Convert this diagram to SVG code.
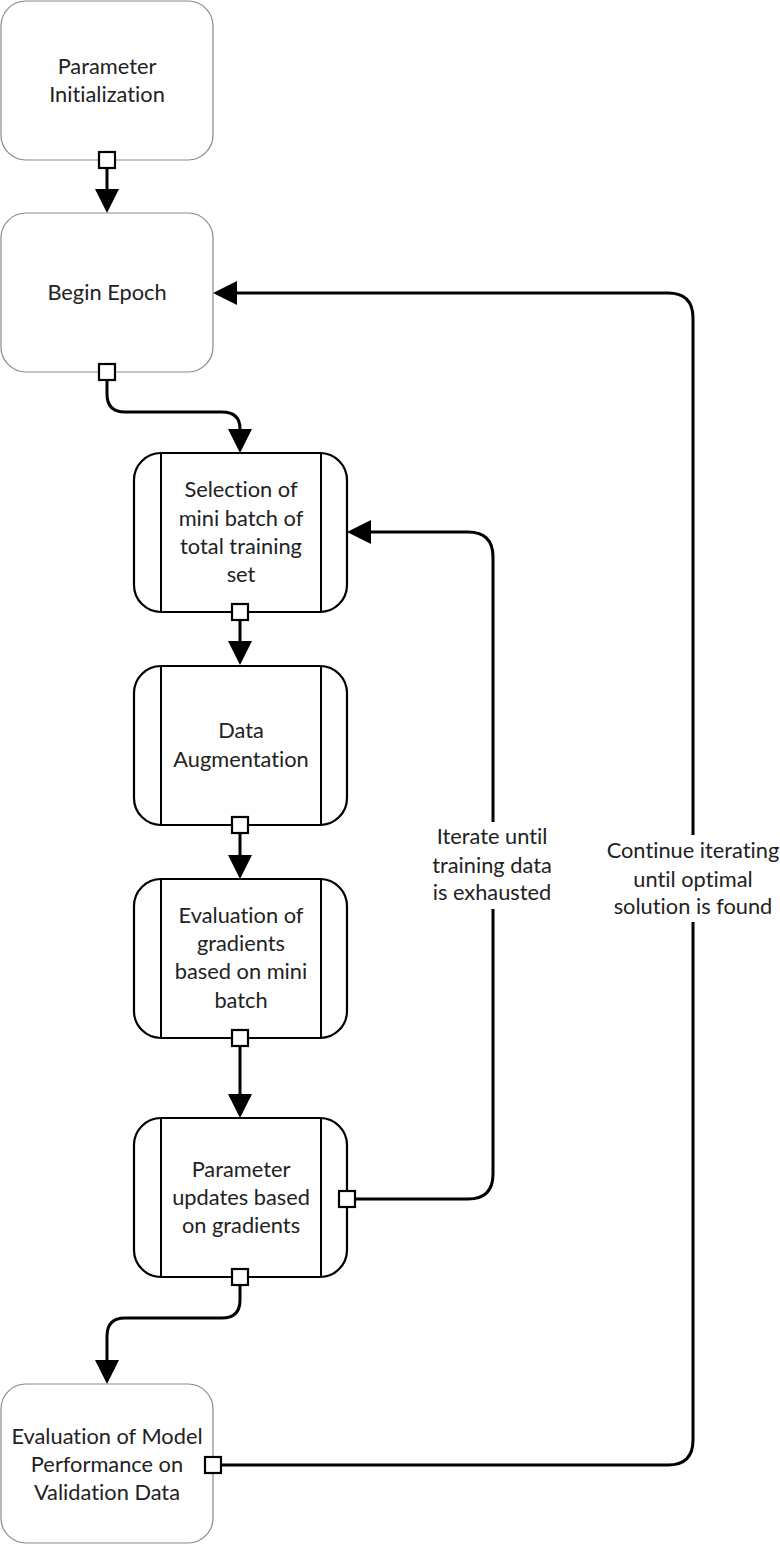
<svg xmlns="http://www.w3.org/2000/svg" width="780" height="1545" viewBox="0 0 780 1545">
<defs>
<style>
.soft{fill:#fff;stroke:#8a8a8a;stroke-width:1.2}
.hard{fill:#fff;stroke:#000;stroke-width:2.2}
.bar{stroke:#000;stroke-width:2}
.t{font-family:Lato,"Open Sans",sans-serif;font-size:21.8px;fill:#222;text-anchor:middle;font-variant-ligatures:none}
.c{fill:none;stroke:#000;stroke-width:3}
.sq{fill:#fff;stroke:#000;stroke-width:2.2}
</style>
<marker id="ah" markerUnits="userSpaceOnUse" markerWidth="24" markerHeight="24" refX="0" refY="12" orient="auto">
<path d="M0,0 L24,12 L0,24 z" fill="#000"/>
</marker>
</defs>
<g id="connectors">
<path class="c" d="M107,160 V189" marker-end="url(#ah)"/>
<path class="c" d="M107,372 V394 Q107,412 125,412 H222 Q240,412 240,429" marker-end="url(#ah)"/>
<path class="c" d="M240,612 V641" marker-end="url(#ah)"/>
<path class="c" d="M240,825 V855" marker-end="url(#ah)"/>
<path class="c" d="M240,1038 V1094" marker-end="url(#ah)"/>
<path class="c" d="M240,1277 V1300 Q240,1318 222,1318 H125 Q107,1318 107,1336 V1360" marker-end="url(#ah)"/>
<path class="c" d="M347,1199 H468 Q493,1199 493,1174 V909"/>
<path class="c" d="M493,822 V557 Q493,532 468,532 H371" marker-end="url(#ah)"/>
<path class="c" d="M213,1465 H668 Q693,1465 693,1440 V922"/>
<path class="c" d="M693,835 V318 Q693,293 668,293 H237" marker-end="url(#ah)"/>
<text class="t" x="492" y="844">Iterate until</text>
<text class="t" x="492" y="873">training data</text>
<text class="t" x="492" y="900">is exhausted</text>
<text class="t" x="693" y="858">Continue iterating</text>
<text class="t" x="693" y="887">until optimal</text>
<text class="t" x="693" y="914">solution is found</text>
</g>
<g id="n1">
<rect class="soft" x="1" y="1" width="212" height="159" rx="25"/>
<text class="t" x="107" y="74">Parameter</text>
<text class="t" x="107" y="102">Initialization</text>
</g>
<g id="n2">
<rect class="soft" x="1" y="213" width="212" height="159" rx="25"/>
<text class="t" x="107" y="300">Begin Epoch</text>
</g>
<g id="n3">
<rect class="hard" x="134" y="453" width="213" height="159" rx="27"/>
<line class="bar" x1="161" y1="453" x2="161" y2="612"/>
<line class="bar" x1="321" y1="453" x2="321" y2="612"/>
<text class="t" x="241" y="497">Selection of</text>
<text class="t" x="241" y="526">mini batch of</text>
<text class="t" x="241" y="554">total training</text>
<text class="t" x="241" y="582">set</text>
</g>
<g id="n4">
<rect class="hard" x="134" y="666" width="213" height="159" rx="27"/>
<line class="bar" x1="161" y1="666" x2="161" y2="825"/>
<line class="bar" x1="321" y1="666" x2="321" y2="825"/>
<text class="t" x="241" y="738">Data</text>
<text class="t" x="241" y="767">Augmentation</text>
</g>
<g id="n5">
<rect class="hard" x="134" y="879" width="213" height="159" rx="27"/>
<line class="bar" x1="161" y1="879" x2="161" y2="1038"/>
<line class="bar" x1="321" y1="879" x2="321" y2="1038"/>
<text class="t" x="241" y="923">Evaluation of</text>
<text class="t" x="241" y="951">gradients</text>
<text class="t" x="241" y="979">based on mini</text>
<text class="t" x="241" y="1008">batch</text>
</g>
<g id="n6">
<rect class="hard" x="134" y="1118" width="213" height="159" rx="27"/>
<line class="bar" x1="161" y1="1118" x2="161" y2="1277"/>
<line class="bar" x1="321" y1="1118" x2="321" y2="1277"/>
<text class="t" x="241" y="1177">Parameter</text>
<text class="t" x="241" y="1205">updates based</text>
<text class="t" x="241" y="1233">on gradients</text>
</g>
<g id="n7">
<rect class="soft" x="1" y="1384" width="212" height="159" rx="25"/>
<text class="t" x="107" y="1444">Evaluation of Model</text>
<text class="t" x="107" y="1472">Performance on</text>
<text class="t" x="107" y="1500">Validation Data</text>
</g>
<g id="ports">
<rect class="sq" x="99" y="152" width="16" height="16"/>
<rect class="sq" x="99" y="364" width="16" height="16"/>
<rect class="sq" x="232" y="604" width="16" height="16"/>
<rect class="sq" x="232" y="817" width="16" height="16"/>
<rect class="sq" x="232" y="1030" width="16" height="16"/>
<rect class="sq" x="339" y="1191" width="16" height="16"/>
<rect class="sq" x="232" y="1269" width="16" height="16"/>
<rect class="sq" x="205" y="1457" width="16" height="16"/>
</g>
</svg>
